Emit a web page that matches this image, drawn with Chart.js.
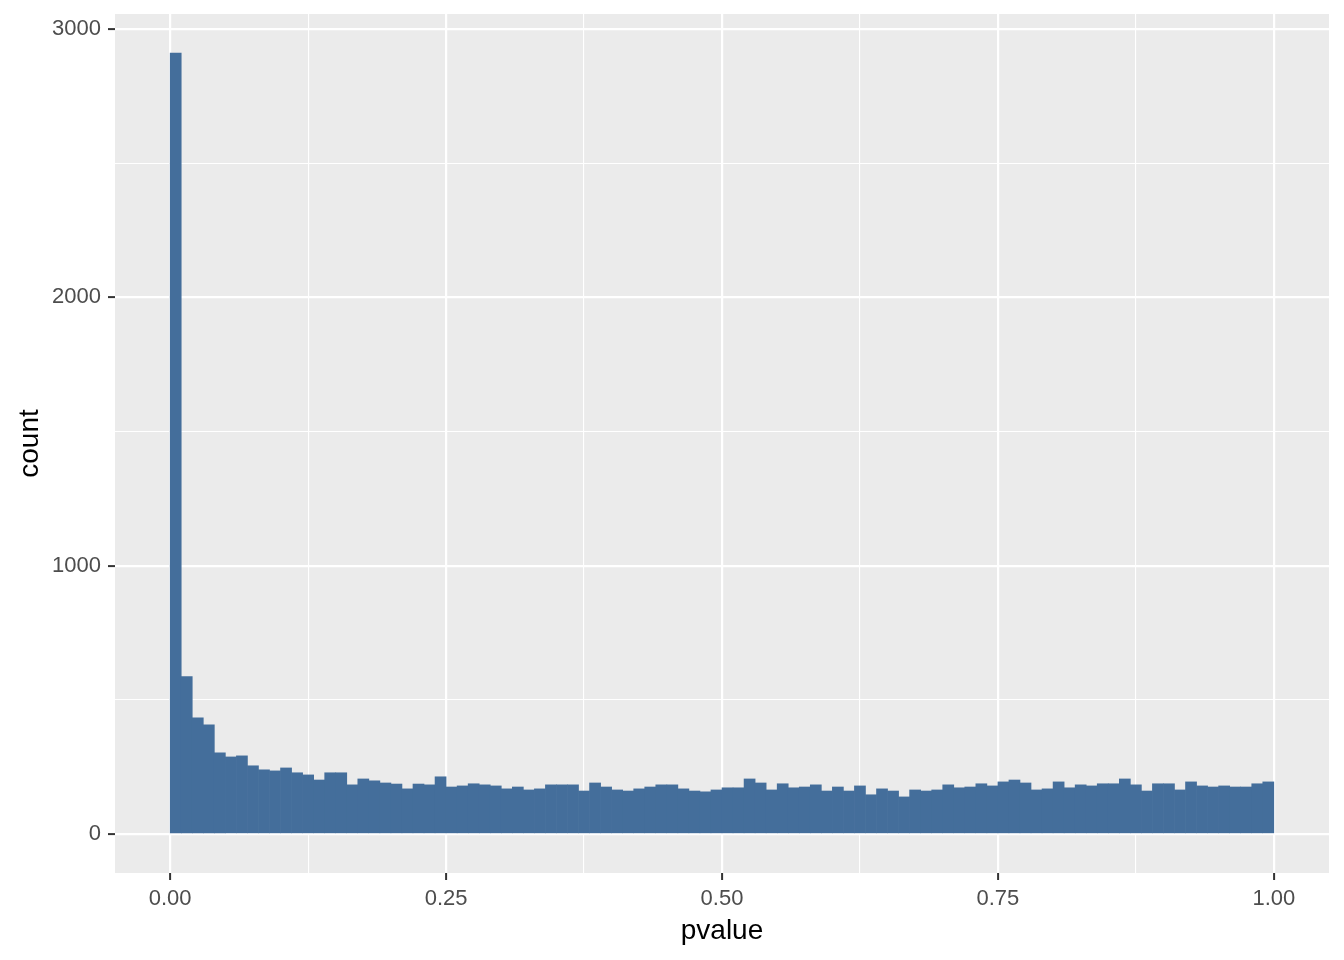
<!DOCTYPE html>
<html>
<head>
<meta charset="utf-8">
<script src="https://cdn.jsdelivr.net/npm/chart.js@4/dist/chart.umd.min.js"></script>
<style>
  html, body { margin: 0; padding: 0; background: #fff; }
  #wrap { width: 1344px; height: 960px; }
</style>
</head>
<body>
<div id="wrap"><canvas id="chartPvalue" width="1344" height="960"></canvas></div>
<script>
// Histograma de p-values, 100 bins de ancho 0.01 entre 0 y 1
const binWidth = 0.01;
const counts = [
  2910, 586, 433, 407, 302, 287, 291, 254, 239, 235,
  246, 228, 220, 201, 228, 228, 183, 205, 198, 190,
  186, 168, 186, 183, 213, 175, 179, 187, 183, 179,
  168, 175, 164, 168, 183, 183, 183, 160, 190, 175,
  164, 160, 168, 175, 183, 183, 168, 160, 157, 164,
  172, 172, 205, 190, 164, 187, 172, 175, 183, 160,
  175, 160, 179, 146, 168, 160, 138, 164, 160, 164,
  183, 172, 175, 187, 179, 194, 201, 190, 164, 168,
  194, 172, 183, 179, 187, 187, 205, 183, 160, 187,
  187, 164, 194, 179, 175, 179, 175, 175, 187, 194
];
const xTicks = [0, 0.125, 0.25, 0.375, 0.5, 0.625, 0.75, 0.875, 1];
const xLabels = [0, 0.25, 0.5, 0.75, 1];
const yTicks = [0, 500, 1000, 1500, 2000, 2500, 3000];
const yLabels = [0, 1000, 2000, 3000];

const FONT = '"Liberation Sans", Arial, sans-serif';
const esMayor = (lista, v) => lista.some(l => Math.abs(l - v) < 1e-9);

// Fondo gris del panel (estilo ggplot)
const panelFondo = {
  id: 'panelFondo',
  beforeDraw(chart) {
    const { ctx, chartArea } = chart;
    ctx.save();
    ctx.fillStyle = '#EBEBEB';
    ctx.fillRect(chartArea.left, chartArea.top, chartArea.right - chartArea.left, chartArea.bottom - chartArea.top);
    ctx.restore();
  }
};

const puntos = counts.map((c, i) => ({ x: (i + 0.5) * binWidth, y: c }));

new Chart(document.getElementById('chartPvalue'), {
  type: 'bar',
  data: {
    datasets: [{
      label: 'count',
      data: puntos,
      backgroundColor: '#446E9B',
      borderWidth: 0,
      barPercentage: 1,
      categoryPercentage: 1
    }]
  },
  options: {
    responsive: false,
    devicePixelRatio: 1,
    animation: false,
    layout: { padding: { left: 0, top: 14, right: 15, bottom: 0 } },
    plugins: {
      legend: { display: false },
      tooltip: { enabled: false }
    },
    scales: {
      x: {
        type: 'linear',
        min: -0.05,
        max: 1.05,
        offset: false,
        afterBuildTicks: (scale) => { scale.ticks = xTicks.map(v => ({ value: v })); },
        afterFit: (scale) => {
          scale.height = 87;
          scale.paddingLeft = 0;
          scale.paddingRight = 0;
        },
        border: { display: false },
        grid: {
          offset: false,
          color: '#FFFFFF',
          lineWidth: (c) => esMayor(xLabels, c.tick.value) ? 2.2 : 1.1,
          tickColor: (c) => esMayor(xLabels, c.tick.value) ? '#333333' : 'rgba(0,0,0,0)',
          tickLength: 7,
          tickWidth: 2
        },
        ticks: {
          autoSkip: false,
          maxRotation: 0,
          padding: 6,
          color: '#4D4D4D',
          font: { family: FONT, size: 22 },
          callback: (v) => esMayor(xLabels, v) ? v.toFixed(2) : ''
        },
        title: {
          display: true,
          text: 'pvalue',
          color: '#000000',
          font: { family: FONT, size: 28 },
          padding: { top: 12, bottom: 12 }
        }
      },
      y: {
        type: 'linear',
        min: -145.5,
        max: 3055.5,
        afterBuildTicks: (scale) => { scale.ticks = yTicks.map(v => ({ value: v })); },
        afterFit: (scale) => {
          scale.width = 115;
          scale.paddingTop = 0;
          scale.paddingBottom = 0;
        },
        border: { display: false },
        grid: {
          color: '#FFFFFF',
          lineWidth: (c) => esMayor(yLabels, c.tick.value) ? 2.2 : 1.1,
          tickColor: (c) => esMayor(yLabels, c.tick.value) ? '#333333' : 'rgba(0,0,0,0)',
          tickLength: 7,
          tickWidth: 2
        },
        ticks: {
          padding: 7,
          color: '#4D4D4D',
          font: { family: FONT, size: 22 },
          callback: (v) => esMayor(yLabels, v) ? String(v) : ''
        },
        title: {
          display: true,
          text: 'count',
          color: '#000000',
          font: { family: FONT, size: 28 },
          padding: { top: 13, bottom: 13 }
        }
      }
    }
  },
  plugins: [panelFondo]
});
</script>
</body>
</html>
